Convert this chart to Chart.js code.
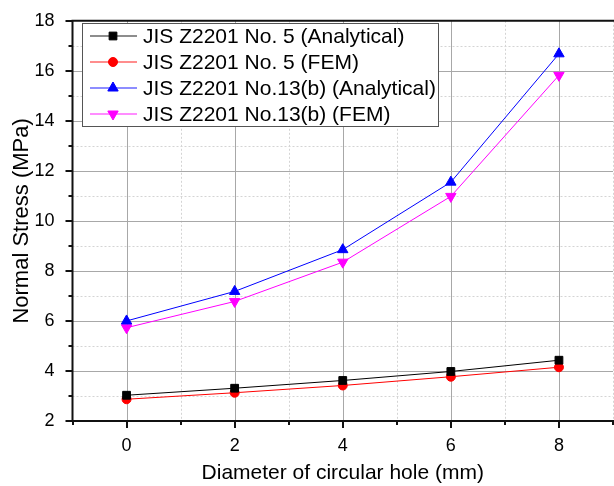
<!DOCTYPE html>
<html>
<head>
<meta charset="utf-8">
<script src="https://cdn.jsdelivr.net/npm/chart.js@4.4.1/dist/chart.umd.min.js"></script>
<style>
  html, body { margin: 0; padding: 0; background: #fff; overflow: hidden; }
  #wrap { width: 620px; height: 486px; }
</style>
</head>
<body>
<div id="wrap"><canvas id="chart" width="620" height="486"></canvas></div>
<script>
// values
var holeDiameter = [0, 2, 4, 6, 8];
var no5Analytical = [3.03, 3.31, 3.62, 3.98, 4.43];
var no5Fem = [2.87, 3.13, 3.42, 3.77, 4.15];
var no13Analytical = [6.0, 7.18, 8.85, 11.55, 16.68];
var no13Fem = [5.73, 6.78, 8.35, 10.98, 15.82];
var seriesLabels = [
  'JIS Z2201 No. 5 (Analytical)',
  'JIS Z2201 No. 5 (FEM)',
  'JIS Z2201 No.13(b) (Analytical)',
  'JIS Z2201 No.13(b) (FEM)'
];
var xTickLabels = [0, 2, 4, 6, 8];
var yTickLabels = [2, 4, 6, 8, 10, 12, 14, 16, 18];

var FONT = "'Liberation Sans', Arial, sans-serif";

function points(ys) {
  return holeDiameter.map(function (x, i) { return { x: x, y: ys[i] }; });
}

function series(label, ys, color, style, radius, rot) {
  return {
    label: label,
    data: points(ys),
    borderColor: color,
    backgroundColor: color,
    borderWidth: 1,
    pointStyle: style,
    pointRadius: radius,
    pointHoverRadius: radius,
    pointRotation: rot || 0,
    pointBorderWidth: 1,
    pointBorderColor: color,
    pointBackgroundColor: color,
    tension: 0,
    fill: false
  };
}

// gridlines, axes and tick marks drawn from the scales
var framePlugin = {
  id: 'frame',
  beforeDatasetsDraw: function (chart) {
    var ctx = chart.ctx, a = chart.chartArea;
    var xs = chart.scales.x, ys = chart.scales.y;
    ctx.save();
    var v, p;
    for (v = xs.min + 1; v <= xs.max; v++) {
      p = Math.round(xs.getPixelForValue(v)) + 0.5;
      ctx.beginPath();
      if (v % 2 === 0) { ctx.strokeStyle = '#a8a8a8'; ctx.setLineDash([]); }
      else { ctx.strokeStyle = '#d4d4d4'; ctx.setLineDash([2, 2]); }
      ctx.lineWidth = 1;
      ctx.moveTo(p, a.top); ctx.lineTo(p, a.bottom);
      ctx.stroke();
    }
    for (v = ys.min + 1; v < ys.max; v++) {
      p = Math.round(ys.getPixelForValue(v)) + 0.5;
      ctx.beginPath();
      if (v % 2 === 0) { ctx.strokeStyle = '#a8a8a8'; ctx.setLineDash([]); }
      else { ctx.strokeStyle = '#d4d4d4'; ctx.setLineDash([2, 2]); }
      ctx.moveTo(a.left, p); ctx.lineTo(a.right, p);
      ctx.stroke();
    }
    ctx.setLineDash([]);
    ctx.strokeStyle = '#111';
    ctx.lineWidth = 2;
    // y ticks
    for (v = ys.min; v <= ys.max; v++) {
      p = Math.round(ys.getPixelForValue(v));
      var len = v % 2 === 0 ? 7 : 4;
      ctx.beginPath(); ctx.moveTo(a.left - len, p); ctx.lineTo(a.left, p); ctx.stroke();
    }
    // x ticks
    for (v = xs.min; v <= xs.max; v++) {
      p = Math.round(xs.getPixelForValue(v));
      var l2 = v % 2 === 0 ? 7 : 4;
      ctx.beginPath(); ctx.moveTo(p, a.bottom); ctx.lineTo(p, a.bottom + l2); ctx.stroke();
    }
    ctx.beginPath();
    ctx.moveTo(a.right + 5, a.top); ctx.lineTo(a.left, a.top);
    ctx.lineTo(a.left, a.bottom); ctx.lineTo(a.right + 5, a.bottom);
    ctx.stroke();
    ctx.restore();
  },
  afterDraw: function (chart) {
    var ctx = chart.ctx;
    var box = { x: 82, y: 23, w: 356, h: 103 };
    ctx.save();
    ctx.fillStyle = '#fff';
    ctx.fillRect(box.x, box.y, box.w, box.h);
    ctx.strokeStyle = '#555';
    ctx.lineWidth = 1;
    ctx.strokeRect(box.x + 0.5, box.y + 0.5, box.w, box.h);
    ctx.font = '21px ' + FONT;
    ctx.textBaseline = 'middle';
    chart.data.datasets.forEach(function (ds, i) {
      var cy = 36 + i * 26;
      ctx.strokeStyle = ds.borderColor;
      ctx.globalAlpha = 0.6;
      ctx.lineWidth = 1.5;
      ctx.beginPath(); ctx.moveTo(90, cy); ctx.lineTo(137, cy); ctx.stroke();
      ctx.globalAlpha = 1;
      ctx.fillStyle = ds.borderColor;
      ctx.lineWidth = 1;
      Chart.helpers.drawPoint(ctx, {
        pointStyle: ds.pointStyle,
        rotation: ds.pointRotation,
        radius: ds.pointRadius,
        borderWidth: 1
      }, 113, cy);
      ctx.fillStyle = '#000';
      ctx.fillText(ds.label, 143, cy + 1);
    });
    ctx.restore();
  }
};

new Chart(document.getElementById('chart'), {
  type: 'line',
  data: {
    datasets: [
      series(seriesLabels[0], no5Analytical, '#000000', 'rect', 5.5),
      series(seriesLabels[1], no5Fem, '#ff0000', 'circle', 4.5),
      series(seriesLabels[2], no13Analytical, '#0000ff', 'triangle', 6),
      series(seriesLabels[3], no13Fem, '#ff00ff', 'triangle', 6, 180)
    ]
  },
  options: {
    responsive: false,
    animation: false,
    layout: { padding: { top: 15, right: 2.5, left: 0, bottom: 0 } },
    plugins: { legend: { display: false }, tooltip: { enabled: false } },
    scales: {
      x: {
        type: 'linear',
        min: -1,
        max: 9,
        grid: { display: false },
        border: { display: false },
        ticks: {
          stepSize: 1,
          autoSkip: false,
          maxRotation: 0,
          padding: 6,
          color: '#000',
          font: { family: FONT, size: 18 },
          callback: function (v) { return xTickLabels.indexOf(v) >= 0 ? String(v) : ''; }
        },
        title: {
          display: true,
          text: 'Diameter of circular hole (mm)',
          color: '#000',
          font: { family: FONT, size: 21 },
          padding: { top: 0, bottom: 0 }
        },
        afterFit: function (s) { s.height = 65; }
      },
      y: {
        min: 2,
        max: 18,
        grid: { display: false },
        border: { display: false },
        ticks: {
          stepSize: 1,
          autoSkip: false,
          padding: 10,
          color: '#000',
          font: { family: FONT, size: 18 },
          callback: function (v) { return yTickLabels.indexOf(v) >= 0 ? String(v) : ''; }
        },
        title: {
          display: true,
          text: 'Normal Stress (MPa)',
          color: '#000',
          font: { family: FONT, size: 22 },
          padding: { top: 9, bottom: 0 }
        },
        afterFit: function (s) { s.width = 72.5; }
      }
    }
  },
  plugins: [framePlugin]
});
</script>
</body>
</html>
